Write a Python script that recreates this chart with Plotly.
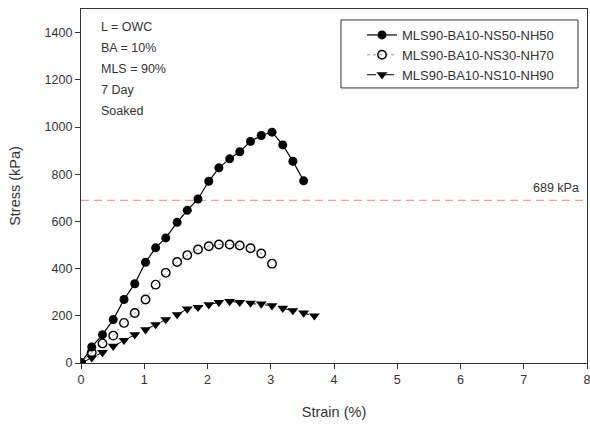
import plotly.graph_objects as go

# Strain (%) and stress (kPa)
strain_a = [0, 0.17, 0.34, 0.51, 0.68, 0.85, 1.02, 1.18, 1.34, 1.52, 1.68, 1.85,
            2.02, 2.18, 2.35, 2.51, 2.68, 2.85, 3.02, 3.19, 3.35, 3.52]
stress_a = [0, 68, 120, 184, 269, 336, 427, 488, 530, 596, 647, 695,
            770, 827, 865, 895, 939, 964, 978, 924, 855, 772]

strain_b = [0, 0.17, 0.34, 0.51, 0.68, 0.85, 1.02, 1.18, 1.34, 1.52, 1.68, 1.85,
            2.02, 2.18, 2.35, 2.51, 2.68, 2.85, 3.02]
stress_b = [0, 45, 83, 116, 170, 212, 269, 332, 382, 428, 457, 481,
            495, 502, 502, 498, 486, 464, 421]

strain_c = [0, 0.17, 0.34, 0.51, 0.68, 0.85, 1.02, 1.18, 1.34, 1.52, 1.68, 1.85,
            2.02, 2.18, 2.35, 2.51, 2.68, 2.85, 3.02, 3.19, 3.35, 3.52, 3.69]
stress_c = [0, 22, 45, 71, 96, 120, 141, 163, 184, 205, 229, 236,
            247, 257, 261, 257, 254, 250, 243, 232, 222, 212, 200]

names = ["MLS90-BA10-NS50-NH50", "MLS90-BA10-NS30-NH70", "MLS90-BA10-NS10-NH90"]
info_lines = ["L = OWC", "BA = 10%", "MLS = 90%", "7 Day", "Soaked"]
limit_value = 689
limit_label = "689 kPa"
x_ticks = [0, 1, 2, 3, 4, 5, 6, 7, 8]
y_ticks = [0, 200, 400, 600, 800, 1000, 1200, 1400]

FONT = "Liberation Sans, Arial, sans-serif"
TXT = "#333333"

fig = go.Figure()
fig.add_trace(go.Scatter(
    x=strain_a, y=stress_a, name=names[0], mode="lines+markers",
    line=dict(color="black", width=1.2),
    marker=dict(symbol="circle", size=9, color="black")))
fig.add_trace(go.Scatter(
    x=strain_b, y=stress_b, name=names[1], mode="lines+markers",
    line=dict(color="#999999", width=1, dash="dot"),
    marker=dict(symbol="circle-open", size=8.5, color="black", line=dict(width=1.4, color="black"))))
fig.add_trace(go.Scatter(
    x=strain_c, y=stress_c, name=names[2], mode="lines+markers",
    line=dict(color="black", width=1, dash="dash"),
    marker=dict(symbol="triangle-down", size=9.5, color="black")))

fig.add_hline(y=limit_value, line=dict(color="#ff9a9a", width=1.2, dash="8px,5px"), layer="below")
fig.add_annotation(x=1, xref="paper", xanchor="right", xshift=-6, y=limit_value, yanchor="bottom",
                   yshift=3, text=limit_label, showarrow=False,
                   font=dict(family=FONT, size=12.5, color=TXT))

for i, t in enumerate(info_lines):
    fig.add_annotation(x=0, xref="paper", xanchor="left", xshift=18, y=1, yref="paper",
                       yanchor="middle", yshift=-18 - 21 * i, text=t, showarrow=False,
                       font=dict(family=FONT, size=12.5, color=TXT))

# legend frame (drawn as a paper-space rectangle)
fig.add_shape(type="rect", xref="paper", yref="paper",
              x0=0.5138, x1=0.9822, y0=0.777, y1=0.969,
              line=dict(color=TXT, width=1), fillcolor="white", layer="below")

axis_common = dict(showline=True, linecolor=TXT, linewidth=1.3, mirror=True,
                   ticks="outside", ticklen=5, tickcolor=TXT, tickwidth=1.2,
                   showgrid=False, zeroline=False, ticklabeloverflow="allow",
                   automargin=False,
                   tickfont=dict(family=FONT, size=12.5, color=TXT))

fig.update_xaxes(range=[0, 8], tickvals=x_ticks,
                 title=dict(text="Strain (%)", font=dict(family=FONT, size=14.5, color=TXT), standoff=20),
                 **axis_common)
fig.update_yaxes(range=[0, 1500], tickvals=y_ticks,
                 title=dict(text="Stress (kPa)", font=dict(family=FONT, size=14.5, color=TXT), standoff=20),
                 **axis_common)

fig.update_layout(
    width=590, height=425,
    margin=dict(l=81, r=3, t=9, b=62, autoexpand=False),
    plot_bgcolor="white", paper_bgcolor="white",
    font=dict(family=FONT, color=TXT),
    showlegend=True,
    legend=dict(x=(362 - 81) / 506, xanchor="left", y=0.969, yanchor="top",
                borderwidth=0, bgcolor="rgba(0,0,0,0)",
                font=dict(family=FONT, size=13, color=TXT),
                tracegroupgap=0, itemwidth=30),
)

fig.write_html("out.html")
